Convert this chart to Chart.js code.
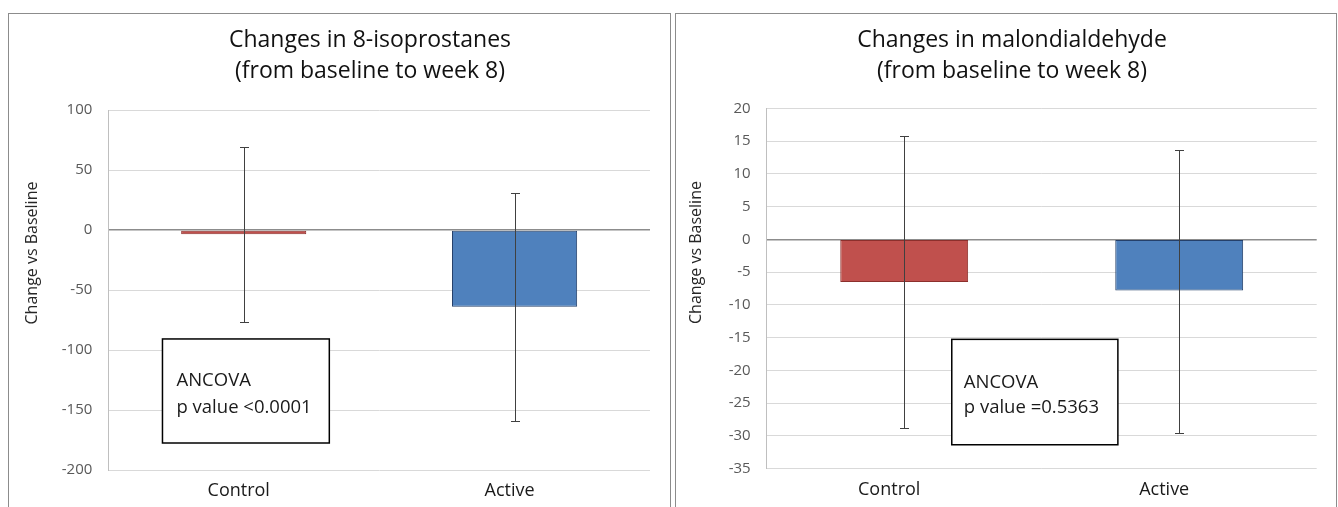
<!DOCTYPE html>
<html>
<head>
<meta charset="utf-8">
<script src="https://cdn.jsdelivr.net/npm/chart.js@4.4.1/dist/chart.umd.min.js"></script>
<style>
  html, body { margin: 0; padding: 0; background: #fff; overflow: hidden; }
  body { width: 1338px; height: 507px; position: relative; }
  .panel { position: absolute; top: 13px; height: 510px; border: 1px solid #8c8c8c; background: #fff; }
  #panelLeft { left: 8px; width: 661px; }
  #panelRight { left: 675px; width: 660px; }
  canvas { display: block; }
</style>
</head>
<body>
<div class="panel" id="panelLeft"><canvas id="isoChart" width="661" height="493"></canvas></div>
<div class="panel" id="panelRight"><canvas id="mdaChart" width="660" height="493"></canvas></div>

<script>
const categories = ["Control", "Active"];
const axisLabel = "Change vs Baseline";

// 8-isoprostanes
const isoTitle = ["Changes in 8-isoprostanes", "(from baseline to week 8)"];
const isoMeans = [-3.6, -64];
const isoUpper = [69, 31];
const isoLower = [-77, -159];
const isoTicks = [-200, -150, -100, -50, 0, 50, 100];
const isoNote = ["ANCOVA", "p value <0.0001"];

// malondialdehyde
const mdaTitle = ["Changes in malondialdehyde", "(from baseline to week 8)"];
const mdaMeans = [-6.5, -7.8];
const mdaUpper = [15.7, 13.7];
const mdaLower = [-28.8, -29.5];
const mdaTicks = [-35, -30, -25, -20, -15, -10, -5, 0, 5, 10, 15, 20];
const mdaNote = ["ANCOVA", "p value =0.5363"];

const barColors = ["#C0504D", "#4F81BD"];
const barEdges = ["#8C2F2C", "#25406A"];

const FONT = "'Open Sans', sans-serif";
Chart.defaults.font.family = FONT;

// title, error bars, the ANCOVA box and the rotated axis label
const extrasPlugin = {
    id: "extras",
    afterDatasetsDraw(chart, args, opts) {
        const ctx = chart.ctx;
        const xs = chart.scales.x;
        const ys = chart.scales.y;
        const meta = chart.getDatasetMeta(0);
        ctx.save();

        ctx.strokeStyle = "#404040";
        ctx.lineWidth = 1;
        opts.upper.forEach((hi, i) => {
            const px = Math.round(meta.data[i].x) + 0.5;
            const top = Math.round(ys.getPixelForValue(hi)) + 0.5;
            const bot = Math.round(ys.getPixelForValue(opts.lower[i])) + 0.5;
            ctx.beginPath();
            ctx.moveTo(px, top);
            ctx.lineTo(px, bot);
            ctx.moveTo(px - 4.5, top);
            ctx.lineTo(px + 4.5, top);
            ctx.moveTo(px - 4.5, bot);
            ctx.lineTo(px + 4.5, bot);
            ctx.stroke();
        });

        const n = opts.note;
        const bx0 = xs.getPixelForValue(n.x0);
        const bx1 = xs.getPixelForValue(n.x1);
        const by0 = ys.getPixelForValue(n.y0);
        const by1 = ys.getPixelForValue(n.y1);
        ctx.fillStyle = "#fff";
        ctx.fillRect(bx0, by0, bx1 - bx0, by1 - by0);
        ctx.strokeStyle = "#000";
        ctx.lineWidth = 1.5;
        ctx.strokeRect(bx0, by0, bx1 - bx0, by1 - by0);
        ctx.fillStyle = "#1a1a1a";
        ctx.font = "18.5px " + FONT;
        ctx.textAlign = "left";
        ctx.textBaseline = "middle";
        n.lines.forEach((t, k) => {
            ctx.fillText(t, bx0 + n.padX, by0 + n.firstLine + k * n.lineGap);
        });

        ctx.textAlign = "center";
        ctx.fillStyle = "#111";
        ctx.font = "23px " + FONT;
        opts.title.forEach((t, k) => {
            ctx.fillText(t, opts.titleX, 26.5 + k * 31);
        });

        ctx.translate(opts.axisX, opts.axisY);
        ctx.rotate(-Math.PI / 2);
        ctx.fillStyle = "#262626";
        ctx.font = "16px " + FONT;
        ctx.fillText(axisLabel, 0, 0);
        ctx.restore();
    }
};

function makeChart(canvasId, cfg) {
    const ticks = cfg.ticks;
    return new Chart(document.getElementById(canvasId), {
        type: "bar",
        data: {
            labels: categories,
            datasets: [{
                data: cfg.means,
                backgroundColor: barColors,
                borderColor: barEdges,
                borderWidth: 1,
                borderSkipped: false,
                categoryPercentage: 1,
                barPercentage: cfg.barPct
            }]
        },
        options: {
            responsive: false,
            animation: false,
            devicePixelRatio: 1,
            layout: { padding: { left: 0, right: cfg.padRight, top: cfg.padTop, bottom: 0 } },
            plugins: {
                legend: { display: false },
                tooltip: { enabled: false },
                title: { display: false },
                extras: {
                    title: cfg.title,
                    titleX: cfg.titleX,
                    upper: cfg.upper,
                    lower: cfg.lower,
                    note: cfg.note,
                    axisX: cfg.axisX,
                    axisY: cfg.axisY
                }
            },
            scales: {
                x: {
                    grid: { display: false, drawTicks: false },
                    border: { display: false },
                    ticks: { color: "#1a1a1a", font: { size: 18 }, padding: 10, labelOffset: cfg.labelOffset },
                    afterFit: (s) => { s.height = cfg.xHeight; }
                },
                y: {
                    min: ticks[0],
                    max: ticks[ticks.length - 1],
                    afterBuildTicks: (s) => { s.ticks = ticks.map(v => ({ value: v })); },
                    grid: {
                        drawTicks: false,
                        color: (c) => c.tick && c.tick.value === 0 ? "#8c8c8c" : "#d9d9d9",
                        lineWidth: (c) => c.tick && c.tick.value === 0 ? 1.5 : 1
                    },
                    border: { display: true, color: "#bfbfbf", width: 1 },
                    ticks: { color: "#595959", font: { size: 15 }, padding: 16 },
                    afterFit: (s) => { s.width = cfg.yWidth; }
                }
            }
        },
        plugins: [extrasPlugin]
    });
}

makeChart("isoChart", {
    title: isoTitle,
    titleX: 361,
    means: isoMeans,
    upper: isoUpper,
    lower: isoLower,
    ticks: isoTicks,
    barPct: 0.462,
    padRight: 20,
    padTop: 96,
    yWidth: 99.3,
    xHeight: 37,
    labelOffset: -5,
    axisX: 23.3,
    axisY: 239,
    note: { lines: isoNote, x0: -0.30, x1: 0.316, y0: -90.8, y1: -177.5, padX: 14, firstLine: 42, lineGap: 27 }
});

makeChart("mdaChart", {
    title: mdaTitle,
    titleX: 336,
    means: mdaMeans,
    upper: mdaUpper,
    lower: mdaLower,
    ticks: mdaTicks,
    barPct: 0.465,
    padRight: 19.3,
    padTop: 94.3,
    yWidth: 90.7,
    xHeight: 38.4,
    labelOffset: -15,
    axisX: 20.7,
    axisY: 238.5,
    note: { lines: mdaNote, x0: 0.173, x1: 0.777, y0: -15.27, y1: -31.36, padX: 12, firstLine: 43, lineGap: 25 }
});
</script>
</body>
</html>
